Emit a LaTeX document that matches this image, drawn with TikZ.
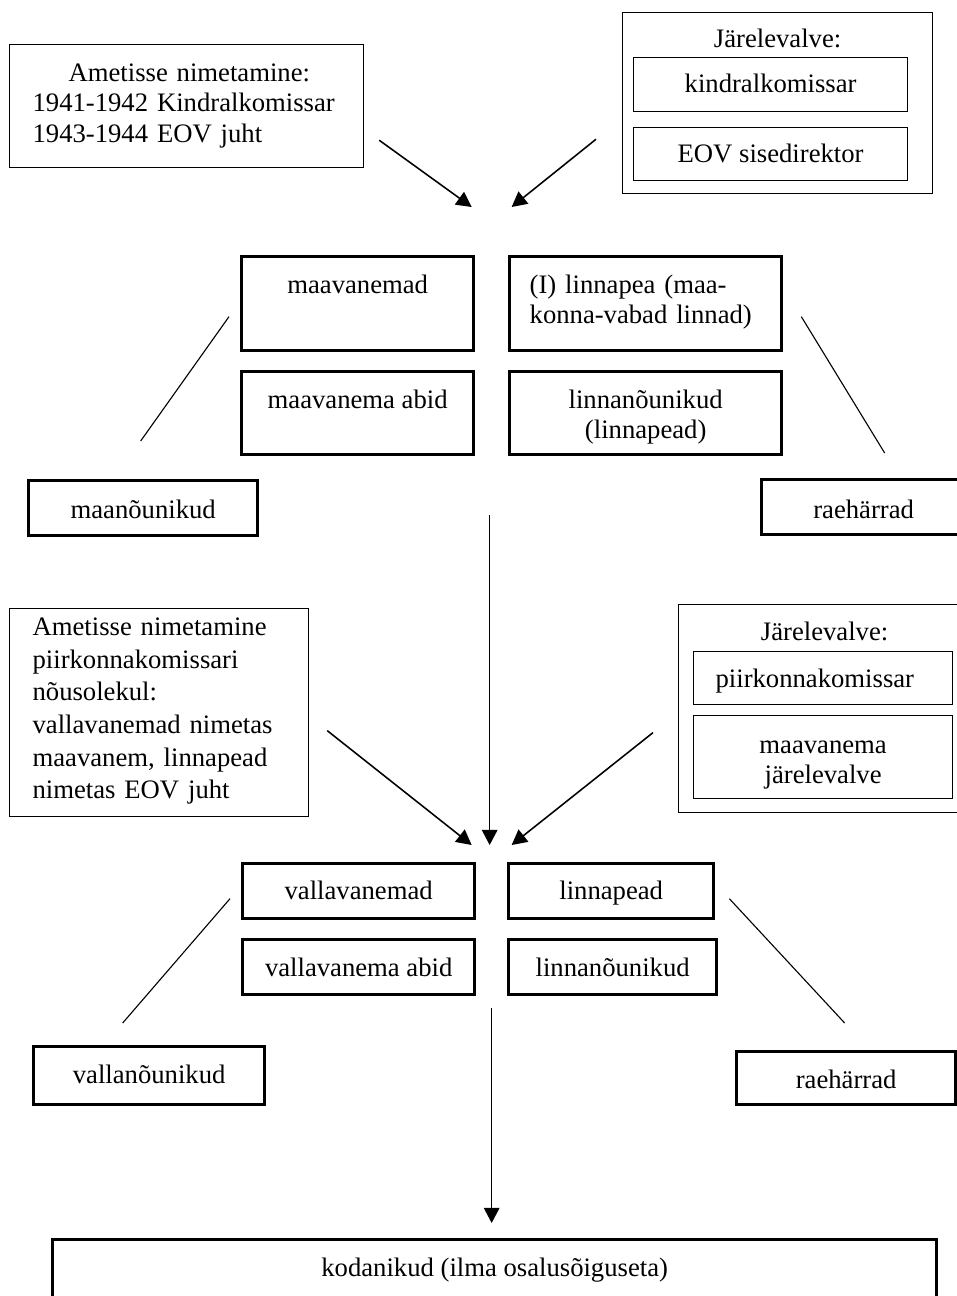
\documentclass[tikz,border=0pt]{standalone}
\usepackage{fontspec}
\setmainfont{Liberation Serif}
\usetikzlibrary{arrows.meta,positioning,calc}

\begin{document}
\begin{tikzpicture}[x=0.45pt, y=-0.45pt,
    every node/.style={inner sep=0pt, font=\fontsize{12}{13.6}\selectfont},
    thinbox/.style={rectangle, draw, line width=0.55pt, align=center, anchor=north west},
    thickbox/.style={rectangle, draw, line width=1.5pt, align=center, anchor=north west},
    arrow/.style={-{Triangle[length=6.8pt,width=7pt]}, line width=0.7pt},
    link/.style={line width=0.5pt}
  ]
  \useasboundingbox (0,0) rectangle (957,1296);
  \clip (0,0) rectangle (957,1296);

  \node[thinbox, align=left, text width=138.6pt, inner xsep=10.35pt, text height=16.65pt, text depth=38.7pt] (appoint1) at (9,44)
    {\hspace*{16.2pt}Ametisse nimetamine:\\1941-1942 Kindralkomissar\\1943-1944 EOV juht};
  \node[thinbox, minimum width=139.5pt, text height=15.75pt, text depth=65.7pt] (sup1) at (622,12) {Järelevalve:};
  \node[thinbox, minimum width=123.3pt, text height=15.75pt, text depth=8.55pt] (kk) at (633,57) {kindralkomissar};
  \node[thinbox, minimum width=123.3pt, text height=15.75pt, text depth=8.1pt, below=6.65pt of kk] (eov) {EOV sisedirektor};

  \node[thickbox, minimum width=104.4pt, text height=16.65pt, text depth=25.65pt] (maavanemad) at (240,255) {maavanemad};
  \node[thickbox, minimum width=104.4pt, text height=16.65pt, text depth=20.7pt, below=7.95pt of maavanemad] (maaabid) {maavanema abid};
  \node[thickbox, align=left, text width=104.4pt, inner xsep=9pt, text height=16.65pt, text depth=25.65pt, right=14.7pt of maavanemad] (linnapea) {(I) linnapea (maa-\\konna-vabad linnad)};
  \node[thickbox, text width=122.4pt, text height=16.65pt, text depth=20.7pt, below=7.95pt of linnapea] (linnoun) {linnanõunikud\\(linnapead)};
  \node[thickbox, minimum width=103.05pt, text height=17.1pt, text depth=7.65pt] (maanoun) at (27,479) {maanõunikud};
  \node[thickbox, minimum width=91.8pt, text height=17.55pt, text depth=7.2pt] (raeh1) at (760,478) {raehärrad};

  \coordinate (hub1) at ($(maavanemad.north east)!.5!(linnapea.north west)+(0,-48)$);
  \draw[arrow] ([shift={(15,-28)}]appoint1.south east) -- ([shift={(-20,0)}]hub1);
  \draw[arrow] ([shift={(-26,-55)}]sup1.south west) -- ([shift={(20,0)}]hub1);
  \draw[link] ([shift={(-11,13)}]maavanemad.west) -- ([shift={(-2.5,-38)}]maanoun.north);
  \draw[link] ([shift={(18,13)}]linnapea.east) -- ([shift={(21,-25)}]raeh1.north);

  \node[thinbox, align=left, text width=113.85pt, inner xsep=10.35pt, text height=12.15pt, text depth=81.45pt, font=\fontsize{12}{14.7}\selectfont] (appoint2) at (9,608)
    {Ametisse nimetamine\\piirkonnakomissari\\nõusolekul:\\vallavanemad nimetas\\maavanem, linnapead\\nimetas EOV juht};
  \node[thinbox, minimum width=131.4pt, text height=16.2pt, text depth=77.4pt] (sup2) at (678,604) {Järelevalve:};
  \node[thinbox, align=left, text width=96.75pt, inner xsep=9.9pt, text height=16.2pt, text depth=7.65pt] (piirk) at (693,651) {piirkonnakomissar};
  \node[thinbox, text width=116.55pt, text height=17.1pt, text depth=20.25pt, below=4.4pt of piirk] (mjv) {maavanema\\järelevalve};

  \node[thickbox, minimum width=104.4pt, text height=16.2pt, text depth=8.55pt] (vallav) at (241,862) {vallavanemad};
  \node[thickbox, minimum width=92.25pt, text height=16.2pt, text depth=8.55pt, right=13.8pt of vallav] (linnap) {linnapead};
  \node[thickbox, minimum width=104.4pt, text height=16.65pt, text depth=8.1pt, below=7.95pt of vallav] (vallabid) {vallavanema abid};
  \node[thickbox, minimum width=93.6pt, text height=16.65pt, text depth=8.1pt, below right=7.95pt and 0pt of linnap.south west] (linnoun2) {linnanõunikud};
  \node[thickbox, minimum width=103.95pt, text height=16.65pt, text depth=9.45pt] (vallanoun) at (32,1045) {vallanõunikud};
  \node[thickbox, minimum width=98.55pt, text height=16.65pt, text depth=7.2pt] (raeh2) at (735,1050) {raehärrad};
  \node[thickbox, minimum width=397.8pt, text height=16.65pt, text depth=22.5pt] (kodanik) at (51,1238) {kodanikud (ilma osalusõiguseta)};

  \coordinate (hub2) at ($(vallav.north east)!.5!(linnap.north west)+(0,-17)$);
  \coordinate (split1) at ($(maaabid.south east)!.5!(linnoun.south west)+(-2,59)$);
  \coordinate (split2) at ($(vallabid.south east)!.5!(linnoun2.south west)+(0,12)$);
  \draw[arrow] (split1) -- (split1 |- hub2);
  \draw[arrow] ([shift={(18,18)}]appoint2.east) -- ([shift={(-20,0)}]hub2);
  \draw[arrow] ([shift={(-25,24)}]sup2.west) -- ([shift={(20,0)}]hub2);
  \draw[link] ([shift={(-11,7.5)}]vallav.west) -- ([shift={(-26.5,-22)}]vallanoun.north);
  \draw[link] ([shift={(14,7.5)}]linnap.east) -- ([shift={(-1.5,-27)}]raeh2.north);
  \draw[arrow] (split2) -- ($(split2 |- kodanik.north)+(0,-15)$);
\end{tikzpicture}
\end{document}
